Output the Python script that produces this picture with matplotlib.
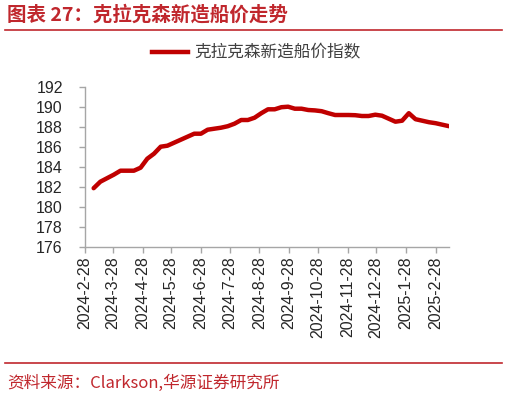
import matplotlib
matplotlib.use("Agg")
import matplotlib.pyplot as plt
from matplotlib.lines import Line2D
import pandas as pd

plt.rcParams['font.family'] = ['Liberation Sans', 'Noto Sans CJK SC', 'DejaVu Sans']

# weekly readings of the Clarksons newbuilding price index
start_date = "2024-03-08"
index_values = [
    181.85, 182.5, 182.85, 183.2, 183.6, 183.6, 183.6, 183.9, 184.8, 185.3,
    186.0, 186.1, 186.4, 186.7, 187.0, 187.3, 187.3, 187.7, 187.8, 187.9,
    188.05, 188.3, 188.67, 188.67, 188.9, 189.35, 189.74, 189.74, 189.95, 190.0,
    189.8, 189.8, 189.67, 189.63, 189.55, 189.35, 189.17, 189.17, 189.17, 189.15,
    189.07, 189.07, 189.2, 189.1, 188.8, 188.5, 188.6, 189.35, 188.75, 188.6,
    188.45, 188.35, 188.2, 188.05,
]
tick_labels = ["2024-2-28", "2024-3-28", "2024-4-28", "2024-5-28", "2024-6-28",
               "2024-7-28", "2024-8-28", "2024-9-28", "2024-10-28", "2024-11-28",
               "2024-12-28", "2025-1-28", "2025-2-28"]
series_name = "克拉克森新造船价指数"
title = "图表 27：克拉克森新造船价走势"
source = "资料来源：Clarkson,华源证券研究所"

dates = pd.date_range(start_date, periods=len(index_values), freq="7D")
tick_dates = pd.to_datetime(tick_labels, format="%Y-%m-%d")

red = "#C00000"
title_red = "#C0272D"
gray = "#A6A6A6"
cjk = ['Noto Sans CJK SC', 'DejaVu Sans']

fig = plt.figure(figsize=(5.07, 3.97), dpi=100)
ax = fig.add_axes([0.1677, 0.3786, 0.718, 0.403])

ax.plot(dates, index_values, color=red, linewidth=3.2, solid_capstyle='round')
ax.set_ylim(176, 192)
ax.set_yticks(range(176, 193, 2))
ax.set_xlim(tick_dates[0], dates[-1])
ax.set_xticks(tick_dates)
ax.set_xticklabels(tick_labels, rotation=90)

for side in ['top', 'right']:
    ax.spines[side].set_visible(False)
for side in ['left', 'bottom']:
    ax.spines[side].set_color(gray)
    ax.spines[side].set_linewidth(1.0)
ax.tick_params(axis='both', direction='out', length=4, color=gray, width=1.0,
               labelsize=11.5, labelcolor='#262626')
ax.tick_params(axis='x', pad=3)
ax.tick_params(axis='y', pad=12)

# legend at top, centered over plot
handle = Line2D([], [], color=red, linewidth=3.2)
leg = fig.legend([handle], [series_name], loc='center', bbox_to_anchor=(0.505, 0.866),
                 frameon=False, handlelength=2.2, handletextpad=0.35,
                 prop={'family': cjk, 'size': 12})
for t in leg.get_texts():
    t.set_color('#404040')

# header and footer
fig.text(0.014, 0.964, title, color=title_red, fontsize=14, fontweight='bold',
         family=cjk, va='center', ha='left')
fig.add_artist(Line2D([0.01, 0.99], [0.924, 0.924], color=title_red, linewidth=1.2,
                      transform=fig.transFigure))
fig.add_artist(Line2D([0.01, 0.99], [0.086, 0.086], color=title_red, linewidth=1.2,
                      transform=fig.transFigure))
fig.text(0.014, 0.035, source, color=title_red, fontsize=12, family=cjk,
         va='center', ha='left')

fig.savefig("out.png", dpi=100)
